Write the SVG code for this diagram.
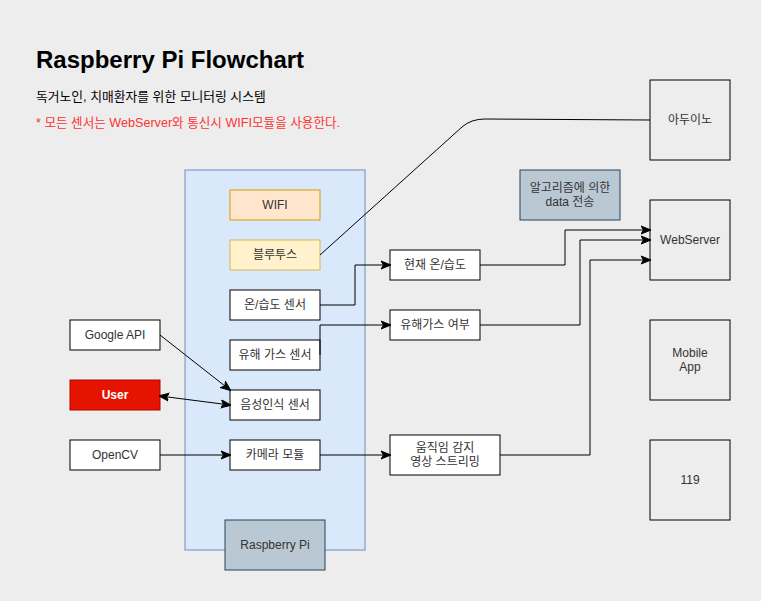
<svg xmlns="http://www.w3.org/2000/svg" width="761" height="601" viewBox="0 0 761 601">
<defs>
<style>
text{font-family:"Liberation Sans","Noto Sans CJK KR",Arial,sans-serif;font-size:12px;fill:#333;text-anchor:middle;dominant-baseline:central}
.n{fill:#fff;stroke:#000;stroke-width:1}
.e{fill:none;stroke:#000;stroke-width:1}
.c{fill:none;stroke:#000;stroke-width:1}
</style>
<marker id="a" viewBox="0 0 10 10" refX="9" refY="5" markerWidth="10" markerHeight="10" markerUnits="userSpaceOnUse" orient="auto-start-reverse">
<path d="M0,1 L10,5 L0,9 L2.5,5 Z" fill="#000" stroke="#000" stroke-width="1"/>
</marker>
</defs>
<rect width="761" height="601" fill="#ededed"/>
<g id="title">
<text x="36" y="59" style="font-size:24px;font-weight:bold;fill:#000;text-anchor:start">Raspberry Pi Flowchart</text>
<text x="36" y="96" style="font-size:12.8px;fill:#000;text-anchor:start">독거노인, 치매환자를 위한 모니터링 시스템</text>
<text x="36" y="123" style="font-size:12.6px;fill:#ff3333;text-anchor:start">* 모든 센서는 WebServer와 통신시 WIFI모듈을 사용한다.</text>
</g>
<g id="container"><rect x="185" y="170" width="180" height="380" fill="#dae8fc" stroke="#6c8ebf"/></g>
<g id="wifi"><rect x="230" y="190" width="90" height="30" fill="#ffe6cc" stroke="#d79b00"/><text x="275" y="205">WIFI</text></g>
<g id="bluetooth"><rect x="230" y="240" width="90" height="30" fill="#fff2cc" stroke="#d6b656"/><text x="275" y="255">블루투스</text></g>
<g id="temp"><rect class="n" x="230" y="290" width="90" height="30"/><text x="275" y="305">온/습도 센서</text></g>
<g id="gas"><rect class="n" x="230" y="340" width="90" height="30"/><text x="275" y="355">유해 가스 센서</text></g>
<g id="voice"><rect class="n" x="230" y="390" width="90" height="30"/><text x="275" y="405">음성인식 센서</text></g>
<g id="camera"><rect class="n" x="230" y="440" width="90" height="30"/><text x="275" y="455">카메라 모듈</text></g>
<g id="rpi"><rect x="225" y="520" width="100" height="50" fill="#bac8d3" stroke="#23445d"/><text x="275" y="545">Raspberry Pi</text></g>
<g id="google"><rect class="n" x="70" y="320" width="90" height="30"/><text x="115" y="335">Google API</text></g>
<g id="user"><rect x="70" y="380" width="90" height="30" fill="#e51400" stroke="#b20000"/><text x="115" y="395" style="fill:#fff;font-weight:bold">User</text></g>
<g id="opencv"><rect class="n" x="70" y="440" width="90" height="30"/><text x="115" y="455">OpenCV</text></g>
<g id="curtemp"><rect class="n" x="390" y="250" width="90" height="30"/><text x="435" y="265">현재 온/습도</text></g>
<g id="gasres"><rect class="n" x="390" y="310" width="90" height="30"/><text x="435" y="325">유해가스 여부</text></g>
<g id="stream"><rect class="n" x="390" y="435" width="110" height="40"/><text x="445" y="448">움직임 감지</text><text x="445" y="462">영상 스트리밍</text></g>
<g id="algo"><rect x="520" y="170" width="100" height="50" fill="#bac8d3" stroke="#23445d"/><text x="570" y="188">알고리즘에 의한</text><text x="570" y="202">data 전송</text></g>
<g id="arduino"><rect class="e" x="650" y="80" width="80" height="80"/><text x="690" y="120">아두이노</text></g>
<g id="webserver"><rect class="e" x="650" y="200" width="80" height="80"/><text x="690" y="240">WebServer</text></g>
<g id="mobile"><rect class="e" x="650" y="320" width="80" height="80"/><text x="690" y="353">Mobile</text><text x="690" y="367">App</text></g>
<g id="n119"><rect class="e" x="650" y="440" width="80" height="80"/><text x="690" y="480">119</text></g>
<g id="connectors">
<path class="c" d="M320,255 L462,127 Q471,119 485,119 L650,120"/>
<path class="c" d="M320,305 L355,305 L355,265 L390,265" marker-end="url(#a)"/>
<path class="c" d="M480,265 L565,265 L565,230 L650,230" marker-end="url(#a)"/>
<path class="c" d="M320,355 L320,325 L390,325" marker-end="url(#a)"/>
<path class="c" d="M480,325 L580,325 L580,240 L650,240" marker-end="url(#a)"/>
<path class="c" d="M500,455 L590,455 L590,260 L650,260" marker-end="url(#a)"/>
<path class="c" d="M160,335 L230,390" marker-end="url(#a)"/>
<path class="c" d="M160,396 L230,405" marker-start="url(#a)" marker-end="url(#a)"/>
<path class="c" d="M160,455 L230,455" marker-end="url(#a)"/>
<path class="c" d="M320,455 L390,455" marker-end="url(#a)"/>
</g>
</svg>
